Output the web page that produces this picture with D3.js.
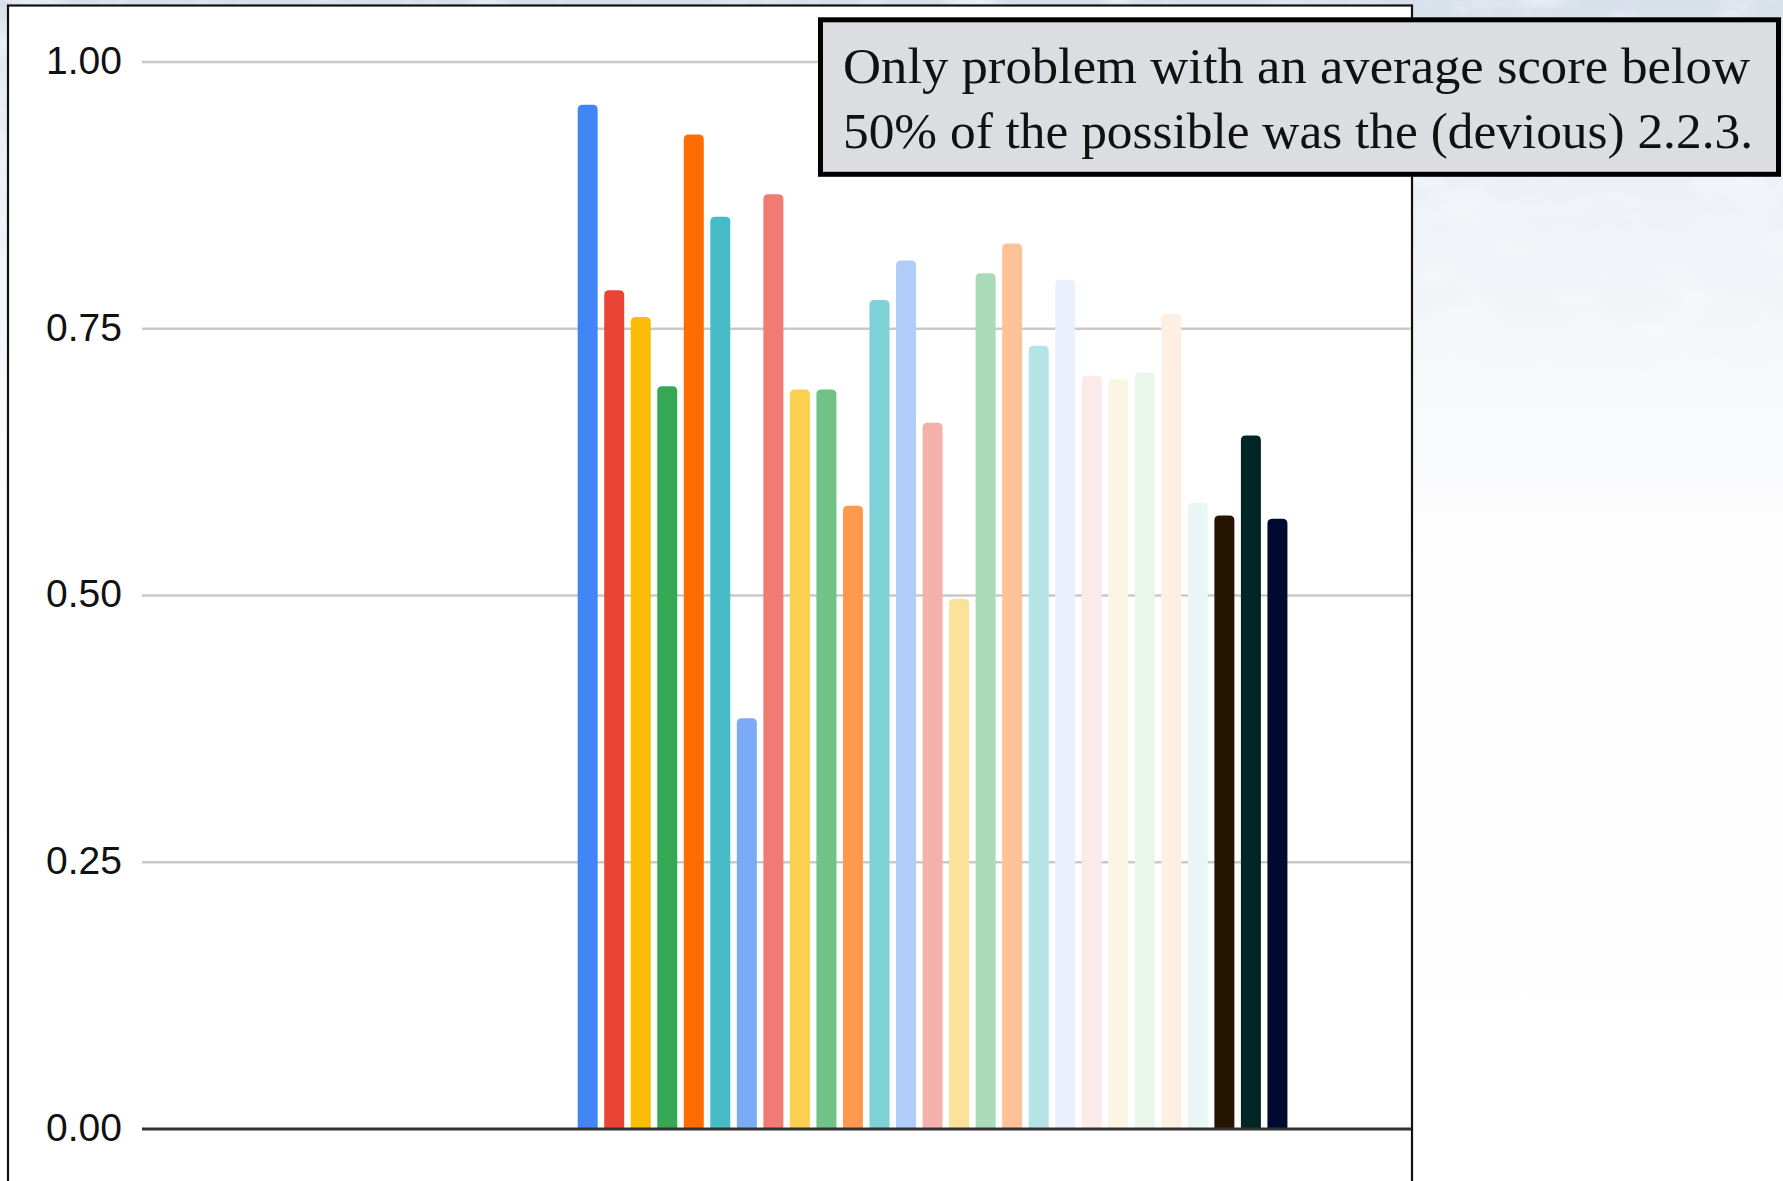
<!DOCTYPE html>
<html>
<head>
<meta charset="utf-8">
<script src="https://cdn.jsdelivr.net/npm/d3@7"></script>
<style>
  html, body { margin: 0; padding: 0; background: #fff; }
  svg { display: block; }
</style>
</head>
<body>
<svg id="chart" width="1783" height="1181"></svg>
<script>
// Average score per problem, as a fraction of the possible points
const problems = ["P1","P2","P3","P4","P5","P6","P7","P8","P9","P10","P11","P12","P13","P14",
                  "P15","P16","P17","P18","P19","P20","P21","P22","P23","P24","P25","P26","P27"];
const scores = [0.960, 0.786, 0.761, 0.696, 0.932, 0.855, 0.385, 0.876, 0.693, 0.693, 0.584,
                0.777, 0.814, 0.662, 0.497, 0.802, 0.830, 0.734, 0.796, 0.706, 0.703, 0.709,
                0.764, 0.587, 0.575, 0.650, 0.572];
const barColors = ["#4285F4","#EA4335","#FBBC04","#34A853","#FF6D01","#46BDC6","#7BAAF7",
                   "#F07B72","#FCD04F","#71C287","#FF994D","#7ED1D7","#B0CDF9","#F5B1AC",
                   "#FBE19A","#ABDAB8","#FFC296","#B5E3E6","#EAF0FD","#FCE9E9","#FCF5E3",
                   "#E9F6EB","#FDEFE4","#E9F6F6","#261500","#012524","#000A31"];
const tickValues = [0, 0.25, 0.5, 0.75, 1];
const tickLabels = ["0.00", "0.25", "0.50", "0.75", "1.00"];
const noteLines = ["Only problem with an average score below",
                   "50% of the possible was the (devious) 2.2.3."];

const W = 1783, H = 1181;
const svg = d3.select("#chart");
const defs = svg.append("defs");

// Slide backdrop: pale sky tone at the top fading to white
const bg = defs.append("linearGradient").attr("id", "bgGrad")
  .attr("x1", 0).attr("y1", 0).attr("x2", 0).attr("y2", 1);
bg.append("stop").attr("offset", "0%").attr("stop-color", "#d6dfea");
bg.append("stop").attr("offset", "4%").attr("stop-color", "#e3e9f1");
bg.append("stop").attr("offset", "16%").attr("stop-color", "#edf1f6");
bg.append("stop").attr("offset", "32%").attr("stop-color", "#f6f8fa");
bg.append("stop").attr("offset", "44%").attr("stop-color", "#fdfdfe");
bg.append("stop").attr("offset", "100%").attr("stop-color", "#ffffff");
svg.append("rect").attr("width", W).attr("height", H).attr("fill", "url(#bgGrad)");

// cloudy mottling in the upper part of the backdrop
const cloud = defs.append("filter").attr("id", "cloud")
  .attr("x", 0).attr("y", 0).attr("width", 1).attr("height", 1);
cloud.append("feTurbulence").attr("type", "fractalNoise")
  .attr("baseFrequency", "0.014 0.035").attr("numOctaves", 4).attr("seed", 7);
cloud.append("feColorMatrix").attr("type", "matrix")
  .attr("values", "0 0 0 0 1  0 0 0 0 1  0 0 0 0 1  0 0 0 1.8 -0.8");
const fade = defs.append("linearGradient").attr("id", "fadeGrad")
  .attr("x1", 0).attr("y1", 0).attr("x2", 0).attr("y2", 1);
fade.append("stop").attr("offset", "0%").attr("stop-color", "#fff").attr("stop-opacity", 1);
fade.append("stop").attr("offset", "30%").attr("stop-color", "#fff").attr("stop-opacity", 0.3);
fade.append("stop").attr("offset", "45%").attr("stop-color", "#fff").attr("stop-opacity", 0);
const mask = defs.append("mask").attr("id", "fadeMask");
mask.append("rect").attr("width", W).attr("height", H).attr("fill", "url(#fadeGrad)");
svg.append("rect").attr("width", W).attr("height", H)
  .attr("filter", "url(#cloud)").attr("mask", "url(#fadeMask)").attr("opacity", 0.75);

// Chart panel
const panel = { left: 8, top: 5.5, right: 1412 };
svg.append("rect")
  .attr("x", panel.left).attr("y", panel.top)
  .attr("width", panel.right - panel.left).attr("height", H + 20)
  .attr("fill", "#ffffff").attr("stroke", "#111").attr("stroke-width", 2.2);

// Scales
const y = d3.scaleLinear().domain([0, 1]).range([1129, 62]);
const x = d3.scaleBand().domain(problems).range([574.4, 1290.7])
  .paddingInner(0.246).paddingOuter(0.123);

const plotLeft = 142, plotRight = panel.right - 1;

// Gridlines
svg.append("g").selectAll("line")
  .data(tickValues.filter(v => v > 0))
  .join("line")
  .attr("x1", plotLeft).attr("x2", plotRight)
  .attr("y1", d => y(d)).attr("y2", d => y(d))
  .attr("stroke", "#c9c9c9").attr("stroke-width", 2.6);

// Y axis labels
const yAxis = d3.axisLeft(y).tickValues(tickValues)
  .tickFormat((d, i) => tickLabels[i]).tickSize(0).tickPadding(0);
const yg = svg.append("g").attr("transform", "translate(122,0)").call(yAxis);
yg.select(".domain").remove();
yg.selectAll("text")
  .attr("font-family", "'Liberation Sans', Arial, sans-serif")
  .attr("font-size", 39).attr("fill", "#111")
  .attr("dy", "0.32em").attr("y", -1);

// Bars with rounded top corners
function topRoundedBar(x0, y0, w, h, r) {
  r = Math.min(r, h, w / 2);
  return `M${x0},${y0 + h}V${y0 + r}Q${x0},${y0} ${x0 + r},${y0}` +
         `H${x0 + w - r}Q${x0 + w},${y0} ${x0 + w},${y0 + r}V${y0 + h}Z`;
}
const rows = problems.map((p, i) => ({ p, v: scores[i], c: barColors[i] }));
svg.append("g").selectAll("path")
  .data(rows)
  .join("path")
  .attr("d", d => topRoundedBar(x(d.p), y(d.v), x.bandwidth(), y(0) - y(d.v), 5))
  .attr("fill", d => d.c);

// Baseline
svg.append("line")
  .attr("x1", plotLeft).attr("x2", plotRight)
  .attr("y1", y(0)).attr("y2", y(0))
  .attr("stroke", "#333").attr("stroke-width", 2.8);

// Note box
const note = svg.append("g");
note.append("rect")
  .attr("x", 820.5).attr("y", 19.8).attr("width", 958).attr("height", 154.5)
  .attr("fill", "#dcdde0").attr("stroke", "#000").attr("stroke-width", 5);
note.selectAll("text")
  .data(noteLines)
  .join("text")
  .attr("x", 843)
  .attr("y", (d, i) => 83 + i * 65)
  .attr("font-family", "'Liberation Serif', 'Times New Roman', serif")
  .attr("font-size", 51)
  .attr("fill", "#111")
  .attr("textLength", (d, i) => i === 0 ? 907 : 910)
  .attr("lengthAdjust", "spacingAndGlyphs")
  .text(d => d);
</script>
</body>
</html>
